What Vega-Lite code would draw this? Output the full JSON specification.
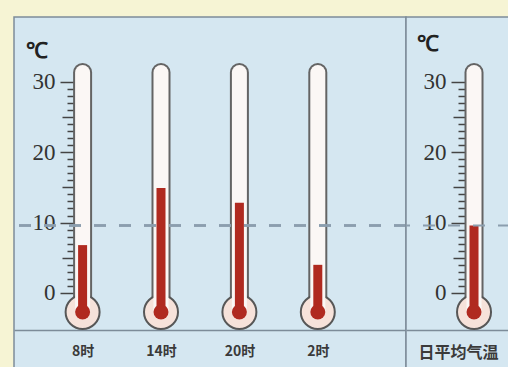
{
  "$schema": "https://vega.github.io/schema/vega-lite/v6.json",
  "background": "#f6f4d4",
  "padding": {"left": 12, "top": 16, "right": 0, "bottom": 0},
  "autosize": {"type": "pad"},
  "spacing": 0,
  "bounds": "flush",
  "config": {
    "view": {"fill": "#d5e7f1", "stroke": "#7d8c99", "strokeWidth": 1.5},
    "axis": {"labelFont": "Liberation Serif", "titleFont": "Liberation Serif"}
  },
  "datasets": {
    "hours": [
      {"t": "8时", "v": 6.8},
      {"t": "14时", "v": 14.9},
      {"t": "20时", "v": 12.8},
      {"t": "2时", "v": 4.0}
    ],
    "avg": [
      {"t": "日平均气温", "v": 9.6}
    ]
  },
  "hconcat": [
    {
      "width": 392,
      "height": 351,
      "data": {"name": "hours"},
      "resolve": {"axis": {"y": "independent"}},
      "layer": [
        {
          "mark": {"type": "rule", "strokeWidth": 19, "strokeCap": "round", "color": "#646464"},
          "encoding": {
            "x": {"field": "t", "type": "nominal", "sort": null,
              "scale": {"type": "point", "padding": 1.035, "align": 0.4375},
              "axis": {"orient": "bottom", "offset": -38, "title": null, "ticks": false, "labelAngle": 0,
                "domainColor": "#7d8c99", "domainWidth": 1.5, "labelPadding": 14,
                "labelFont": "Noto Sans CJK SC", "labelFontSize": 14, "labelColor": "#3a3a3a", "labelFontWeight": "bold"}},
            "y": {"datum": 31.3, "type": "quantitative",
              "scale": {"domain": [-10.65, 39.19], "nice": false, "zero": false},
              "axis": {"orient": "left", "title": "℃", "titleAngle": 0, "titleX": -38, "titleY": 33, "titleAlign": "center", "titleBaseline": "middle",
                "titleFont": "Liberation Serif", "titleFontSize": 22, "titleFontWeight": "bold", "titleColor": "#222222",
                "offset": -60, "domain": false, "grid": false,
                "values": [0, 10, 20, 30], "tickSize": 14,
                "tickColor": "#444444", "tickWidth": 1.5,
                "labelFontSize": 23, "labelColor": "#333333", "labelPadding": 5}},
            "y2": {"datum": -2.7}
          }
        },
        {
          "mark": {"type": "point", "filled": true, "fill": "#f6e2da", "stroke": "#575757", "strokeWidth": 2, "size": 1156, "opacity": 1},
          "encoding": {
            "x": {"field": "t", "type": "nominal", "sort": null},
            "y": {"datum": -2.7, "type": "quantitative",
              "axis": {"orient": "left", "title": null, "offset": -60, "domain": false, "grid": false, "labels": false,
                "values": [1,2,3,4,5,6,7,8,9,11,12,13,14,15,16,17,18,19,21,22,23,24,25,26,27,28,29],
                "tickSize": {"expr": "datum.value % 5 === 0 ? 12 : 7"},
                "tickColor": "#444444", "tickWidth": 1.5}}
          }
        },
        {
          "mark": {"type": "rule", "strokeWidth": 15, "strokeCap": "round", "color": "#fbf7f5"},
          "encoding": {
            "x": {"field": "t", "type": "nominal", "sort": null},
            "y": {"datum": 31.3, "type": "quantitative", "axis": null},
            "y2": {"datum": -2.7}
          }
        },
        {
          "mark": {"type": "rule", "strokeWidth": 9, "color": "#b02a20"},
          "encoding": {
            "x": {"field": "t", "type": "nominal", "sort": null},
            "y": {"field": "v", "type": "quantitative", "axis": null},
            "y2": {"datum": -2.7}
          }
        },
        {
          "mark": {"type": "point", "filled": true, "color": "#b02a20", "size": 225, "opacity": 1},
          "encoding": {
            "x": {"field": "t", "type": "nominal", "sort": null},
            "y": {"datum": -2.7, "type": "quantitative", "axis": null}
          }
        },
        {
          "mark": {"type": "rule", "strokeWidth": 2, "strokeDash": [12, 13], "color": "#8b9eae"},
          "encoding": {
            "y": {"datum": 9.6, "type": "quantitative", "axis": null}
          }
        }
      ]
    },
    {
      "width": 104,
      "height": 351,
      "data": {"name": "avg"},
      "resolve": {"axis": {"y": "independent"}},
      "layer": [
        {
          "mark": {"type": "rule", "strokeWidth": 19, "strokeCap": "round", "color": "#646464"},
          "encoding": {
            "x": {"field": "t", "type": "nominal", "sort": null,
              "scale": {"type": "point", "padding": 0.5, "align": 0.654},
              "axis": {"orient": "bottom", "offset": -38, "title": null, "ticks": false, "labelAngle": 0,
                "domainColor": "#7d8c99", "domainWidth": 1.5, "labelPadding": 14, "labelOffset": -16,
                "labelFont": "Noto Sans CJK SC", "labelFontSize": 16, "labelColor": "#3a3a3a", "labelFontWeight": "bold"}},
            "y": {"datum": 31.3, "type": "quantitative",
              "scale": {"domain": [-10.65, 39.19], "nice": false, "zero": false},
              "axis": {"orient": "left", "title": "℃", "titleAngle": 0, "titleX": -38, "titleY": 26, "titleAlign": "center", "titleBaseline": "middle",
                "titleFont": "Liberation Serif", "titleFontSize": 22, "titleFontWeight": "bold", "titleColor": "#222222",
                "offset": -59, "domain": false, "grid": false,
                "values": [0, 10, 20, 30], "tickSize": 14,
                "tickColor": "#444444", "tickWidth": 1.5,
                "labelFontSize": 23, "labelColor": "#333333", "labelPadding": 5}},
            "y2": {"datum": -2.7}
          }
        },
        {
          "mark": {"type": "point", "filled": true, "fill": "#f6e2da", "stroke": "#575757", "strokeWidth": 2, "size": 1156, "opacity": 1},
          "encoding": {
            "x": {"field": "t", "type": "nominal", "sort": null},
            "y": {"datum": -2.7, "type": "quantitative",
              "axis": {"orient": "left", "title": null, "offset": -59, "domain": false, "grid": false, "labels": false,
                "values": [1,2,3,4,5,6,7,8,9,11,12,13,14,15,16,17,18,19,21,22,23,24,25,26,27,28,29],
                "tickSize": {"expr": "datum.value % 5 === 0 ? 12 : 7"},
                "tickColor": "#444444", "tickWidth": 1.5}}
          }
        },
        {
          "mark": {"type": "rule", "strokeWidth": 15, "strokeCap": "round", "color": "#fbf7f5"},
          "encoding": {
            "x": {"field": "t", "type": "nominal", "sort": null},
            "y": {"datum": 31.3, "type": "quantitative", "axis": null},
            "y2": {"datum": -2.7}
          }
        },
        {
          "mark": {"type": "rule", "strokeWidth": 9, "color": "#b02a20"},
          "encoding": {
            "x": {"field": "t", "type": "nominal", "sort": null},
            "y": {"field": "v", "type": "quantitative", "axis": null},
            "y2": {"datum": -2.7}
          }
        },
        {
          "mark": {"type": "point", "filled": true, "color": "#b02a20", "size": 225, "opacity": 1},
          "encoding": {
            "x": {"field": "t", "type": "nominal", "sort": null},
            "y": {"datum": -2.7, "type": "quantitative", "axis": null}
          }
        },
        {
          "mark": {"type": "rule", "strokeWidth": 2, "strokeDash": [12, 13], "color": "#8b9eae"},
          "encoding": {
            "y": {"datum": 9.6, "type": "quantitative", "axis": null}
          }
        }
      ]
    }
  ]
}
